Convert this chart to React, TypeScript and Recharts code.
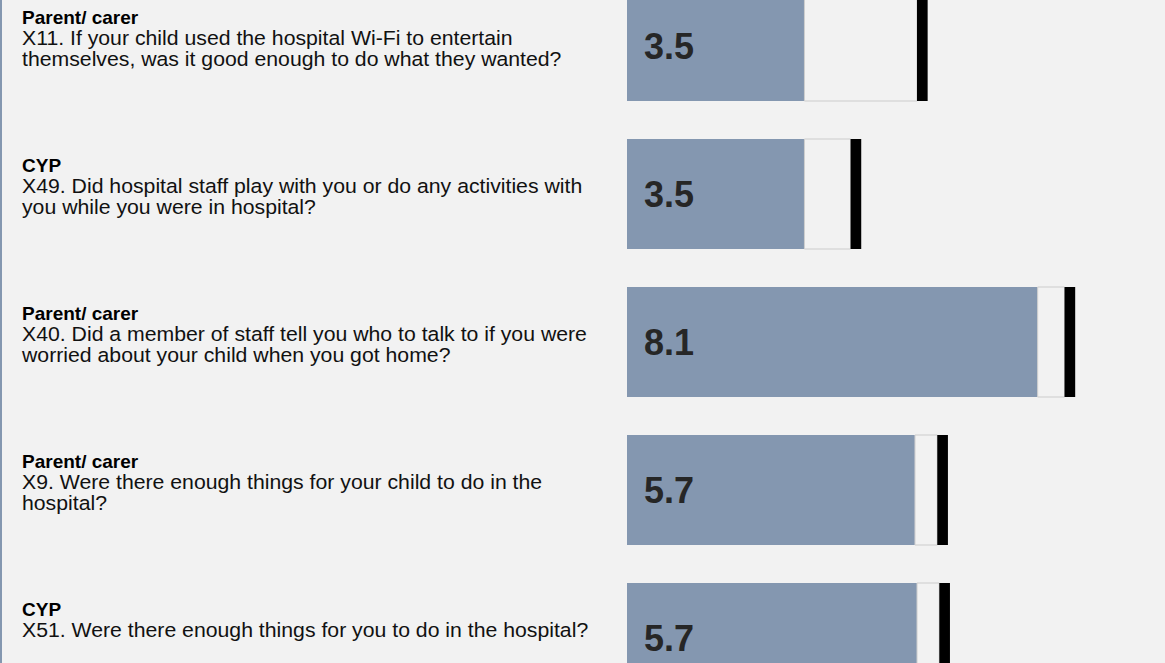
import React from 'react';
import { BarChart, Bar, XAxis, YAxis, LabelList } from 'recharts';

const categories = ['X11', 'X49', 'X40', 'X9', 'X51'];
const respondents = ['Parent/ carer', 'CYP', 'Parent/ carer', 'Parent/ carer', 'CYP'];
const questionLines = [
  ['X11. If your child used the hospital Wi-Fi to entertain', 'themselves, was it good enough to do what they wanted?'],
  ['X49. Did hospital staff play with you or do any activities with', 'you while you were in hospital?'],
  ['X40. Did a member of staff tell you who to talk to if you were', 'worried about your child when you got home?'],
  ['X9. Were there enough things for your child to do in the', 'hospital?'],
  ['X51. Were there enough things for you to do in the hospital?'],
];
const scores = [3.5, 3.5, 8.1, 5.68, 5.72];
const benchmarkStarts = [5.72, 4.41, 8.63, 6.12, 6.16];
const markerWidth = 0.21;

const data = categories.map((name, i) => ({
  name,
  idx: i,
  score: scores[i],
  gap: benchmarkStarts[i] - scores[i],
  marker: markerWidth,
}));

const FONT = '"Liberation Sans", Arial, sans-serif';
const BAR_COLOR = '#8497b0';

const QuestionTick = (props: any) => {
  const { y, payload } = props;
  const i = categories.indexOf(payload.value);
  const lines = questionLines[i] || [];
  const lineH = 21;
  const first = y - 22;
  return (
    <g>
      <text x={22} y={first} fontFamily={FONT} fontSize={19} fontWeight="bold" fill="#000">
        {respondents[i]}
      </text>
      <g transform="translate(22, 0) scale(1.09, 1)">
        {lines.map((l, k) => (
          <text
            key={k}
            x={0}
            y={first + lineH * (k + 1)}
            fontFamily={FONT}
            fontSize={19.5}
            fill="#111"
          >
            {l}
          </text>
        ))}
      </g>
    </g>
  );
};

const ValueLabel = (props: any) => {
  const { x, y, height, value } = props;
  return (
    <text
      x={x + 17}
      y={y + height / 2 + 13}
      fontFamily={FONT}
      fontSize={36}
      fontWeight="bold"
      fill="#262626"
    >
      {Number(value).toFixed(1)}
    </text>
  );
};

export default function App() {
  return (
    <div
      style={{
        position: 'absolute',
        left: 0,
        top: 0,
        width: 1165,
        height: 663,
        overflow: 'hidden',
        background: '#f2f2f2',
      }}
    >
      <div style={{ position: 'absolute', left: 0, top: -28 }}>
        <BarChart
          width={1165}
          height={740}
          data={data}
          layout="vertical"
          margin={{ top: 0, right: 31, bottom: 0, left: 0 }}
          barSize={110}
        >
          <XAxis type="number" domain={[0, 10]} hide />
          <YAxis
            type="category"
            dataKey="name"
            width={627}
            axisLine={false}
            tickLine={false}
            tick={<QuestionTick />}
            interval={0}
          />
          <Bar dataKey="score" stackId="a" fill={BAR_COLOR} isAnimationActive={false}>
            <LabelList dataKey="score" content={<ValueLabel />} />
          </Bar>
          <Bar dataKey="gap" stackId="a" fill="#f2f2f2" stroke="#cccccc" strokeWidth={1} isAnimationActive={false} />
          <Bar dataKey="marker" stackId="a" fill="#000000" isAnimationActive={false} />
        </BarChart>
      </div>
      <div style={{ position: 'absolute', left: 0, top: 0, width: 2, height: 663, background: BAR_COLOR }} />
    </div>
  );
}
